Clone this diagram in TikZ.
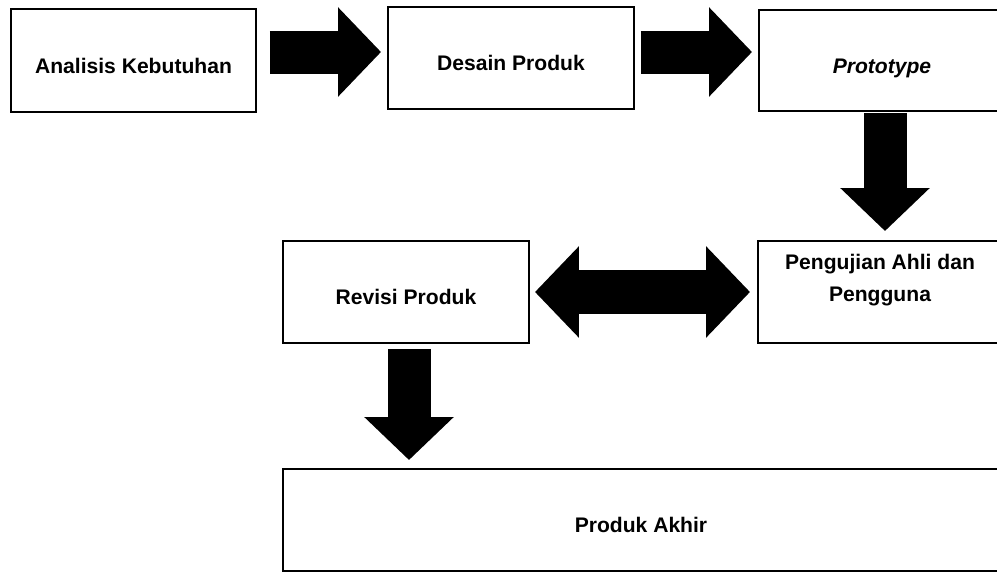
\documentclass[tikz,border=0pt]{standalone}
\usepackage{fontspec}
\setmainfont{Liberation Sans}
\usetikzlibrary{arrows.meta,calc}

\tikzset{
  box/.style={draw, line width=0.04cm, rectangle, inner sep=0pt,
    minimum width=4.92cm, minimum height=2.04cm,
    text height=14.3pt, text depth=0pt, font=\fontsize{12pt}{14pt}\selectfont\bfseries},
  blockarrow/.style={line width=0.86cm,
    -{Triangle[length=0.86cm,width=1.74cm]}},
  twoway/.style={line width=0.88cm,
    {Triangle[length=0.88cm,width=1.78cm]}-{Triangle[length=0.88cm,width=1.78cm]}}
}

\begin{document}
\begin{tikzpicture}[x=0.02cm,y=-0.02cm]
    \useasboundingbox (0,0) rectangle (997,572);
    \clip (0,0) rectangle (997,572);
    % boxes
    \node [box, minimum width=4.9cm, minimum height=2.06cm] (ana) at (133.5,60.5) {Analisis Kebutuhan};
    \node [box] (desain) at (511,58) {Desain Produk};
    \node [box] (proto) at (882,60.5) {\textit{Prototype}};
    \node [box] (uji) at (881,292) {};
    \node [align=center, inner sep=0pt, anchor=north,
      font=\fontsize{12pt}{18pt}\selectfont\bfseries] (ujitext) at (880,254) {Pengujian Ahli dan\\Pengguna};
    \node [box] (revisi) at (406,292) {Revisi Produk};
    \node [box, minimum width=14.32cm] (akhir) at (641,520) {Produk Akhir};
    % arrows
    \draw [blockarrow] ([shift={(13,-8.5)}]ana.east) -- ([shift={(-6,-6)}]desain.west);
    \draw [blockarrow] ([shift={(6,-6)}]desain.east) -- ([shift={(-6,-8.5)}]proto.west);
    \draw [blockarrow] ([shift={(3,1)}]proto.south) -- ([shift={(4,-9)}]uji.north);
    \draw [twoway] ([shift={(5,0)}]revisi.east) -- ([shift={(-7,0)}]uji.west);
    \draw [blockarrow] ([shift={(3,5)}]revisi.south) -- ($(revisi.south |- akhir.north)+(3,-8)$);
\end{tikzpicture}
\end{document}
